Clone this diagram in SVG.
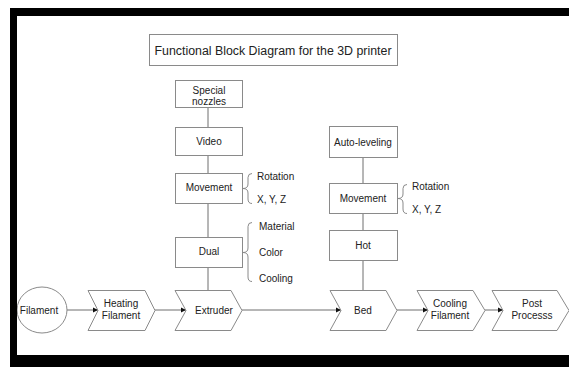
<svg xmlns="http://www.w3.org/2000/svg" width="569" height="374" viewBox="0 0 569 374">
<style>
.box{fill:#fff;stroke:#8a8a8a;stroke-width:1}
.ln{fill:none;stroke:#6e6e6e;stroke-width:1}
.br{fill:none;stroke:#8a8a8a;stroke-width:1}
.t{font-family:"Liberation Sans",Arial,sans-serif;font-size:10px;fill:#222;text-anchor:middle}
.s{font-family:"Liberation Sans",Arial,sans-serif;font-size:10px;fill:#222}
.title{font-family:"Liberation Sans",Arial,sans-serif;font-size:12.3px;fill:#222;text-anchor:middle}
</style>
<defs>
<marker id="ah" markerWidth="6" markerHeight="6" refX="5" refY="3" orient="auto" markerUnits="userSpaceOnUse">
<path d="M0,0.5 L5,3 L0,5.5 Z" fill="#111"/>
</marker>
</defs>
<rect width="569" height="374" fill="#fff"/>

<g id="connectors">
<path class="ln" d="M208 107 V127 M208 155 V173 M208 203 V237 M208 267 V290"/>
<path class="ln" d="M363 157 V183 M363 213 V230 M363 260 V290"/>
<path class="ln" d="M67 310 H98" marker-end="url(#ah)"/>
<path class="ln" d="M155 310 H186" marker-end="url(#ah)"/>
<path class="ln" d="M242 310 H341" marker-end="url(#ah)"/>
<path class="ln" d="M397 310 H428" marker-end="url(#ah)"/>
<path class="ln" d="M485 310 H503" marker-end="url(#ah)"/>
</g>

<g id="title">
<rect class="box" x="149.5" y="34.5" width="248" height="31"/>
<text class="title" x="273" y="54.5" textLength="237" lengthAdjust="spacingAndGlyphs">Functional Block Diagram for the 3D printer</text>
</g>

<g id="special-nozzles">
<rect class="box" x="175.5" y="80.5" width="67" height="27"/>
<text class="t" x="209" y="93.5">Special</text>
<text class="t" x="209" y="105">nozzles</text>
</g>
<g id="video">
<rect class="box" x="175.5" y="127.5" width="67" height="28"/>
<text class="t" x="209" y="145">Video</text>
</g>
<g id="movement-left">
<rect class="box" x="175.5" y="173.5" width="67" height="30"/>
<text class="t" x="209" y="191">Movement</text>
<path class="br" d="M252 173.5 Q248 173.5 248 177.5 L248 184 Q248 188.5 243 188.5 Q248 188.5 248 193 L248 199 Q248 203.5 252 203.5"/>
<text class="s" x="257" y="180">Rotation</text>
<text class="s" x="257" y="203">X, Y, Z</text>
</g>
<g id="dual">
<rect class="box" x="175.5" y="237.5" width="67" height="30"/>
<text class="t" x="209" y="255">Dual</text>
<path class="br" d="M252 222.5 Q248 222.5 248 226.5 L248 248 Q248 252.5 243 252.5 Q248 252.5 248 257 L248 277 Q248 281.5 252 281.5"/>
<text class="s" x="259" y="230">Material</text>
<text class="s" x="259" y="256">Color</text>
<text class="s" x="259" y="282">Cooling</text>
</g>

<g id="auto-leveling">
<rect class="box" x="329.5" y="126.5" width="68" height="31"/>
<text class="t" x="363" y="145.5">Auto-leveling</text>
</g>
<g id="movement-right">
<rect class="box" x="329.5" y="183.5" width="68" height="30"/>
<text class="t" x="363" y="201.5">Movement</text>
<path class="br" d="M407 184.5 Q403 184.5 403 188.5 L403 194 Q403 198.5 398 198.5 Q403 198.5 403 203 L403 209 Q403 213.5 407 213.5"/>
<text class="s" x="412" y="190">Rotation</text>
<text class="s" x="412" y="213">X, Y, Z</text>
</g>
<g id="hot">
<rect class="box" x="329.5" y="230.5" width="68" height="30"/>
<text class="t" x="363" y="249">Hot</text>
</g>

<g id="filament">
<ellipse class="box" cx="42" cy="310" rx="25" ry="23"/>
<text class="t" x="39" y="314">Filament</text>
</g>
<g id="heating-filament">
<path class="box" d="M88 290.5 H145 L155 310.5 L145 330.5 H88 L98 310.5 Z"/>
<text class="t" x="121" y="307">Heating</text>
<text class="t" x="121" y="319">Filament</text>
</g>
<g id="extruder">
<path class="box" d="M175 290.5 H231 L242 310.5 L231 330.5 H175 L186 310.5 Z"/>
<text class="t" x="214" y="314">Extruder</text>
</g>
<g id="bed">
<path class="box" d="M330 290.5 H386 L397 310.5 L386 330.5 H330 L341 310.5 Z"/>
<text class="t" x="363" y="314">Bed</text>
</g>
<g id="cooling-filament">
<path class="box" d="M417 290.5 H473 L485 310.5 L473 330.5 H417 L428 310.5 Z"/>
<text class="t" x="450" y="307">Cooling</text>
<text class="t" x="450" y="319">Filament</text>
</g>
<g id="post-process">
<path class="box" d="M492 290.5 H557 L569 310.5 L557 330.5 H492 L503 310.5 Z"/>
<text class="t" x="532" y="307">Post</text>
<text class="t" x="532" y="319">Processs</text>
</g>

<g id="frame">
<rect x="10" y="8" width="559" height="8" fill="#000"/>
<rect x="10" y="8" width="7" height="359" fill="#000"/>
<rect x="10" y="355" width="559" height="12" fill="#000"/>
</g>
</svg>
